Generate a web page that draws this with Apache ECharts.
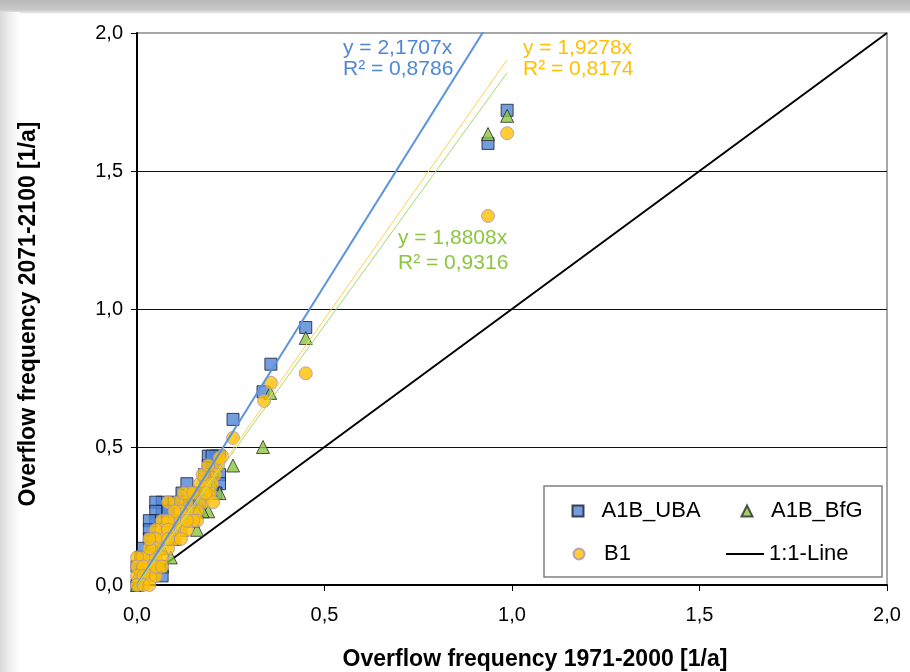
<!DOCTYPE html>
<html>
<head>
<meta charset="utf-8">
<script src="https://cdn.jsdelivr.net/npm/echarts@6/dist/echarts.min.js"></script>
<style>
html,body{margin:0;padding:0;width:910px;height:672px;background:#fff;overflow:hidden;}
#topband{position:absolute;left:0;top:0;width:910px;height:14px;background:linear-gradient(to bottom,#b8b8b8 0,#c9c9c9 10px,#eaeaea 13px,#fff 14px);}
#leftband{position:absolute;left:0;top:12px;width:20px;height:660px;background:linear-gradient(to right,#d9d9d9 0,#efefef 10px,#fff 20px);}
#chart{position:absolute;left:0;top:0;width:910px;height:672px;}
</style>
</head>
<body>
<div id="topband"></div>
<div id="leftband"></div>
<div id="chart"></div>
<script>
// ---- data (x = overflow frequency 1971-2000, y = 2071-2100) ----
const seriesNames = ['A1B_UBA', 'A1B_BfG', 'B1', '1:1-Line'];
const yTicks = [0, 0.5, 1.0, 1.5, 2.0];
const xTicks = [0, 0.5, 1.0, 1.5, 2.0];

const uba = [
  [0.987,1.72],[0.936,1.60],[0.45,0.933],[0.357,0.80],[0.336,0.70],[0.256,0.60],
  [0.22,0.467],[0.21,0.467],[0.2,0.433],[0.21,0.433],[0.22,0.40],[0.2,0.40],[0.19,0.433],
  [0.22,0.367],[0.21,0.333],[0.19,0.367],[0.167,0.333],[0.155,0.333],[0.14,0.333],
  [0.133,0.30],[0.15,0.30],[0.12,0.333],[0.133,0.367],[0.167,0.30],[0.1,0.30],
  [0.067,0.30],[0.05,0.30],[0.067,0.267],[0.05,0.267],[0.05,0.233],[0.033,0.233],
  [0.033,0.20],[0.033,0.167],[0.04,0.133],[0.033,0.10],[0.017,0.133],[0.01,0.10],
  [0.0,0.067],[0.017,0.067],[0.01,0.033],[0.0,0.0],[0.067,0.033],[0.067,0.067],
  [0.1,0.233],[0.083,0.267],[0.117,0.30],[0.18,0.40],[0.19,0.467],[0.2,0.467]
];
const bfg = [
  [0.987,1.70],[0.936,1.634],[0.45,0.895],[0.355,0.696],[0.336,0.50],[0.256,0.433],
  [0.22,0.333],[0.2,0.333],[0.19,0.267],[0.175,0.267],[0.16,0.267],[0.16,0.20],[0.2,0.367],
  [0.15,0.233],[0.133,0.233],[0.12,0.20],[0.1,0.20],[0.1,0.167],[0.09,0.10],[0.067,0.133],
  [0.05,0.10],[0.033,0.133],[0.033,0.067],[0.017,0.033],[0.0,0.0],[0.067,0.067],
  [0.117,0.233],[0.133,0.267],[0.083,0.167],[0.05,0.067],[0.0,0.033],[0.017,0.10]
];
const b1 = [
  [0.987,1.637],[0.936,1.337],[0.45,0.767],[0.357,0.733],[0.339,0.667],[0.256,0.533],
  [0.227,0.467],[0.216,0.433],[0.208,0.40],[0.2,0.367],[0.168,0.367],[0.141,0.333],
  [0.195,0.333],[0.133,0.30],[0.176,0.30],[0.203,0.30],[0.16,0.267],[0.16,0.233],
  [0.133,0.267],[0.12,0.233],[0.108,0.30],[0.117,0.267],[0.1,0.233],[0.09,0.20],
  [0.1,0.167],[0.083,0.133],[0.067,0.233],[0.067,0.20],[0.067,0.167],[0.05,0.20],
  [0.05,0.167],[0.05,0.133],[0.05,0.10],[0.067,0.10],[0.033,0.10],[0.033,0.067],
  [0.017,0.10],[0.0,0.10],[0.0,0.067],[0.017,0.067],[0.0,0.033],[0.017,0.033],
  [0.033,0.033],[0.0,0.0],[0.017,0.0],[0.083,0.30],[0.1,0.267],[0.15,0.233],
  [0.183,0.367],[0.22,0.46],
  [0.033,0.0],[0.05,0.033],[0.05,0.067],[0.067,0.067],[0.125,0.333],[0.15,0.333],
  [0.183,0.333],[0.175,0.40],[0.19,0.433],[0.117,0.20],[0.133,0.20],[0.083,0.233],
  [0.083,0.20],[0.133,0.233],[0.033,0.133],[0.033,0.167],[0.083,0.167],[0.117,0.167]
];
const slopes = { uba: 2.1707, bfg: 1.8808, b1: 1.9278 };
const r2 = { uba: '0,8786', bfg: '0,9316', b1: '0,8174' };
const oneToOne = [[0, 0], [2, 2]];

// ---- build ----
const fmt = v => v.toFixed(1).replace('.', ',');
function trend(points, k) {
  const xmax = Math.max(...points.map(p => p[0]));
  return [[0, 0], [xmax, k * xmax]];
}
const FONT = 'Liberation Sans, Arial, sans-serif';
const cBlue = '#4F86D6', cGreen = '#8CC63F', cOrange = '#FFC000';

const chart = echarts.init(document.getElementById('chart'), null, { renderer: 'canvas' });

function legendItem(name, left, top, iw, ih, pad, icon) {
  const d = icon ? { name: name, icon: icon } : name;
  return {
    data: [d], left: left, top: top, orient: 'horizontal',
    itemWidth: iw, itemHeight: ih, selectedMode: false, padding: 0,
    textStyle: { fontFamily: FONT, fontSize: 22, color: '#000', lineHeight: 26, padding: [0, 0, 0, pad] }
  };
}

chart.setOption({
  animation: false,
  backgroundColor: 'transparent',
  grid: { left: 137, right: 23, top: 33, bottom: 87, show: true, borderColor: '#8a8a8a', borderWidth: 1.5, backgroundColor: '#fff' },
  xAxis: {
    type: 'value', min: 0, max: 2, interval: 0.5,
    axisLine: { show: true, onZero: false, lineStyle: { color: '#000', width: 2 } },
    axisTick: { show: true, length: 6, inside: false, lineStyle: { color: '#000' } },
    axisLabel: { formatter: fmt, fontFamily: FONT, fontSize: 20, color: '#000', margin: 20 },
    splitLine: { show: false }
  },
  yAxis: {
    type: 'value', min: 0, max: 2, interval: 0.5,
    axisLine: { show: true, onZero: false, lineStyle: { color: '#000', width: 2 } },
    axisTick: { show: true, length: 6, inside: false, lineStyle: { color: '#000' } },
    axisLabel: { formatter: fmt, fontFamily: FONT, fontSize: 20, color: '#000', margin: 14 },
    splitLine: { show: true, showMinLine: false, showMaxLine: false, lineStyle: { color: '#111', width: 1 } }
  },
  legend: [
    legendItem('A1B_UBA', 571.5, 498, 11, 11, 13),
    legendItem('A1B_BfG', 740.5, 498, 11, 11, 13.5),
    legendItem('B1', 572.5, 541, 11, 11, 14.5),
    legendItem('1:1-Line', 726, 541, 38, 2, 0, 'rect')
  ],
  graphic: [
    { type: 'rect', shape: { x: 544, y: 486, width: 338, height: 91 }, style: { fill: '#fff', stroke: '#808080', lineWidth: 1.5 }, z: 3 },
    { type: 'text', left: 343, top: 38, style: { text: 'y = ' + String(slopes.uba).replace('.', ',') + 'x', font: '21px ' + FONT, fill: cBlue }, z: 10 },
    { type: 'text', left: 343, top: 59, style: { text: 'R² = ' + r2.uba, font: '21px ' + FONT, fill: cBlue }, z: 10 },
    { type: 'text', left: 523, top: 38, style: { text: 'y = ' + String(slopes.b1).replace('.', ',') + 'x', font: '21px ' + FONT, fill: cOrange }, z: 10 },
    { type: 'text', left: 523, top: 59, style: { text: 'R² = ' + r2.b1, font: '21px ' + FONT, fill: cOrange }, z: 10 },
    { type: 'text', left: 398, top: 228, style: { text: 'y = ' + String(slopes.bfg).replace('.', ',') + 'x', font: '21px ' + FONT, fill: cGreen }, z: 10 },
    { type: 'text', left: 398, top: 253, style: { text: 'R² = ' + r2.bfg, font: '21px ' + FONT, fill: cGreen }, z: 10 },
    { type: 'text', x: 535, y: 660, style: { text: 'Overflow frequency 1971-2000 [1/a]', font: 'bold 23px ' + FONT, fill: '#000', align: 'center', verticalAlign: 'middle' }, z: 10 },
    { type: 'text', x: 29, y: 314, rotation: Math.PI / 2, style: { text: 'Overflow frequency 2071-2100 [1/a]', font: 'bold 23px ' + FONT, fill: '#000', align: 'center', verticalAlign: 'middle' }, z: 10 }
  ],
  series: [
    {
      name: '1:1-Line', type: 'line', data: oneToOne, symbol: 'none', z: 3,
      lineStyle: { color: '#000', width: 2 }, itemStyle: { color: '#000' }
    },
    {
      name: 'A1B_UBA', type: 'scatter', data: uba, symbol: 'rect', symbolSize: 12, z: 4,
      itemStyle: { color: cBlue, borderColor: '#1a1a2e', borderWidth: 1 }
    },
    {
      name: 'A1B_BfG', type: 'scatter', data: bfg, symbol: 'triangle', symbolSize: 13, z: 5,
      itemStyle: { color: cGreen, borderColor: '#2a2a2a', borderWidth: 1 }
    },
    {
      name: 'B1', type: 'scatter', data: b1, symbol: 'circle', symbolSize: 13, z: 6,
      itemStyle: { color: cOrange, borderColor: '#A891C0', borderWidth: 1 }
    },
    {
      name: 'trend UBA', type: 'line', data: trend(uba, slopes.uba), symbol: 'none', z: 7, clip: true,
      lineStyle: { color: '#5B93DC', width: 2 }
    },
    {
      name: 'trend B1', type: 'line', data: trend(b1, slopes.b1), symbol: 'none', z: 7, clip: true,
      lineStyle: { color: '#FFD24D', width: 1 }
    },
    {
      name: 'trend BfG', type: 'line', data: trend(bfg, slopes.bfg), symbol: 'none', z: 7, clip: true,
      lineStyle: { color: '#A6D96A', width: 1 }
    }
  ]
});
</script>
</body>
</html>
